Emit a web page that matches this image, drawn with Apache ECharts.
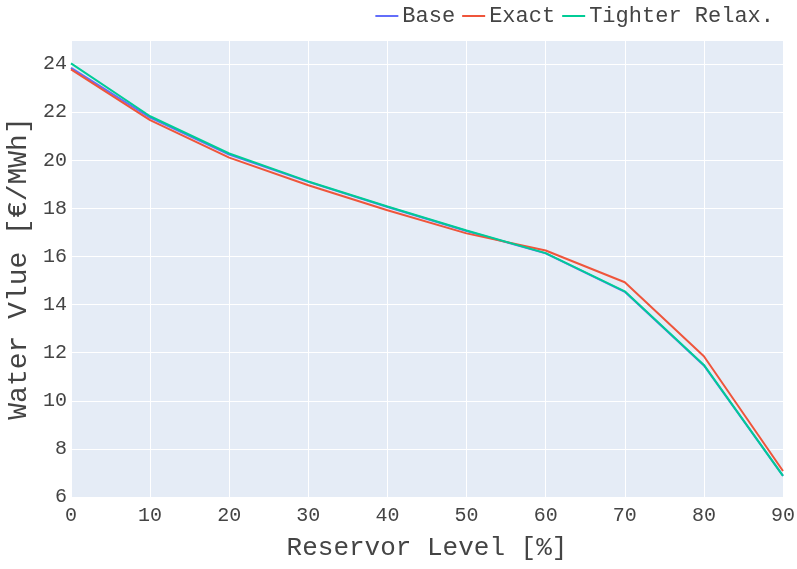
<!DOCTYPE html>
<html>
<head>
<meta charset="utf-8">
<script src="https://cdn.jsdelivr.net/npm/echarts@6/dist/echarts.min.js"></script>
<style>html,body{margin:0;padding:0;background:#fff}#c{width:797px;height:569px}</style>
</head>
<body>
<div id="c"></div>
<script>
const levels = [0, 10, 20, 30, 40, 50, 60, 70, 80, 90];
const baseValues = [23.84, 21.77, 20.24, 19.10, 18.06, 17.06, 16.13, 14.53, 11.47, 6.88];
const exactValues = [23.78, 21.67, 20.11, 18.96, 17.92, 16.96, 16.25, 14.93, 11.85, 7.08];
const tighterValues = [24.03, 21.83, 20.28, 19.12, 18.08, 17.08, 16.14, 14.55, 11.49, 6.88];
const seriesNames = ['Base', 'Exact', 'Tighter Relax.'];
const colors = ['#636efa', '#EF553B', '#00cc96'];

const font = 'Liberation Mono, Courier New, monospace';
const chart = echarts.init(document.getElementById('c'));
const mk = (name, vals, color) => ({
  name, type: 'line', data: levels.map((x, i) => [x, vals[i]]),
  showSymbol: false, symbol: 'none', lineStyle: { width: 2, color }, itemStyle: { color },
  animation: false
});
chart.setOption({
  animation: false,
  grid: { left: 71, right: 14, top: 40, bottom: 72, backgroundColor: '#E5ECF6', show: true, borderWidth: 0,
          containLabel: false, outerBoundsMode: 'none' },
  legend: {
    top: 0, right: 18, itemWidth: 23, itemHeight: 2, itemGap: 7, icon: 'rect',
    textStyle: { fontFamily: font, fontSize: 22, color: '#444', padding: [0, 0, 0, -1] },
    data: seriesNames
  },
  xAxis: {
    type: 'value', min: 0, max: 90, interval: 10,
    name: 'Reservor Level [%]', nameLocation: 'middle', nameGap: 38,
    nameTextStyle: { fontFamily: font, fontSize: 26, color: '#444' },
    axisLine: { show: false }, axisTick: { show: false },
    axisLabel: { fontFamily: font, fontSize: 20, color: '#444', margin: 9 },
    splitLine: { lineStyle: { color: '#fff', width: 1 } }
  },
  yAxis: {
    type: 'value', min: 6, max: 25, interval: 2,
    name: 'Water Vlue [€/MWh]', nameLocation: 'middle', nameGap: 37, nameRotate: 90,
    nameTextStyle: { fontFamily: font, fontSize: 28, color: '#444' },
    axisLine: { show: false }, axisTick: { show: false },
    axisLabel: { fontFamily: font, fontSize: 20, color: '#444', margin: 4, showMaxLabel: false },
    splitLine: { lineStyle: { color: '#fff', width: 1 } }
  },
  series: [
    mk(seriesNames[0], baseValues, colors[0]),
    mk(seriesNames[1], exactValues, colors[1]),
    mk(seriesNames[2], tighterValues, colors[2])
  ]
});
</script>
</body>
</html>
